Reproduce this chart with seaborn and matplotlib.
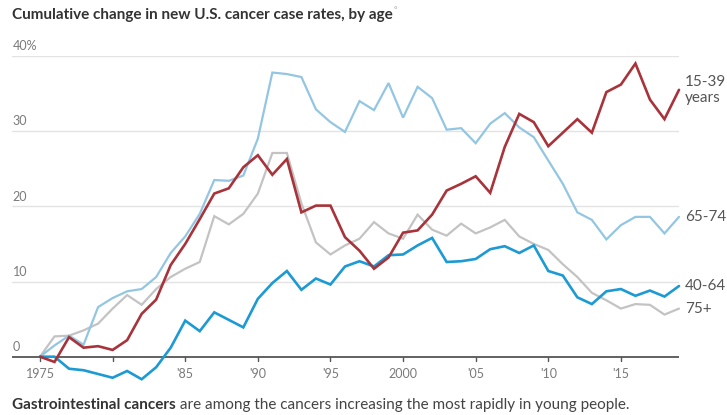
import numpy as np
import pandas as pd
import matplotlib
matplotlib.use("Agg")
import matplotlib.pyplot as plt
import seaborn as sns

years = list(range(1975, 2020))

age_15_39 = [0, -0.7, 2.6, 1.2, 1.4, 0.9, 2.2, 5.7, 7.6, 12.2, 15.0, 18.3,
             21.7, 22.4, 25.2, 26.8, 24.2, 26.3, 19.2, 20.1, 20.1, 15.9, 14.1,
             11.7, 13.2, 16.5, 16.8, 18.9, 22.1, 23.0, 24.0, 21.8, 27.9, 32.3,
             31.2, 28.0, 29.8, 31.6, 29.8, 35.2, 36.2, 39.0, 34.2, 31.6, 35.5]

age_65_74 = [0, 1.5, 2.8, 1.6, 6.6, 7.8, 8.7, 9.0, 10.6, 13.8, 16.0, 19.0,
             23.5, 23.4, 24.1, 29.0, 37.8, 37.6, 37.2, 32.9, 31.2, 29.9, 34.0,
             32.8, 36.4, 31.8, 35.9, 34.4, 30.2, 30.4, 28.4, 31.0, 32.4, 30.5,
             29.2, 26.1, 23.0, 19.2, 18.2, 15.6, 17.5, 18.6, 18.6, 16.4, 18.6]

age_40_64 = [0, 0, -1.6, -1.8, -2.3, -2.8, -1.9, -3.0, -1.4, 1.2, 4.8, 3.4,
             5.9, 4.9, 3.9, 7.7, 9.8, 11.4, 8.9, 10.4, 9.6, 12.0, 12.7,
             12.0, 13.5, 13.6, 14.8, 15.8, 12.6, 12.7, 13.0, 14.3, 14.7, 13.8,
             14.8, 11.4, 10.8, 7.9, 7.0, 8.7, 9.0, 8.1, 8.8, 8.0, 9.4]

age_75_plus = [0, 2.7, 2.8, 3.5, 4.4, 6.4, 8.2, 6.9, 9.0, 10.6, 11.7, 12.6,
               18.7, 17.6, 19.0, 21.7, 27.1, 27.1, 20.4, 15.2, 13.6, 14.8, 15.7,
               17.9, 16.4, 15.7, 18.9, 16.9, 16.1, 17.7, 16.4, 17.2, 18.2, 16.0,
               15.0, 14.2, 12.3, 10.6, 8.5, 7.5, 6.4, 7.0, 6.9, 5.6, 6.4]

series_names = ["75+", "65-74", "40-64", "15-39"]
end_labels = {"15-39": "15-39\nyears", "65-74": "65-74", "40-64": "40-64", "75+": "75+"}
y_ticks = [0, 10, 20, 30, 40]
y_tick_labels = ["0", "10", "20", "30", "40%"]
x_ticks = [1975, 1980, 1985, 1990, 1995, 2000, 2005, 2010, 2015]
x_tick_labels = ["1975", "", "'85", "'90", "'95", "2000", "'05", "'10", "'15"]

title = "Cumulative change in new U.S. cancer case rates, by age"
caption_bold = "Gastrointestinal cancers"
caption_rest = " are among the cancers increasing the most rapidly in young people."

values = {"15-39": age_15_39, "65-74": age_65_74, "40-64": age_40_64, "75+": age_75_plus}
df = pd.concat([pd.DataFrame({"year": years, "change": values[k], "age": k}) for k in series_names],
               ignore_index=True)

palette = {"15-39": "#a8333a", "65-74": "#93c6e2", "40-64": "#1c9ad3", "75+": "#c3c3c3"}
widths = {"15-39": 1.9, "65-74": 1.6, "40-64": 1.9, "75+": 1.6}

sns.set_theme(style="white")
plt.rcParams['font.family'] = ['Lato', 'DejaVu Sans']

W, H = 727, 415
fig = plt.figure(figsize=(W / 100, H / 100), dpi=100)

x_left_px, x_right_px = 12, 679
y_top_px, y_bot_px = 56, 381
ax = fig.add_axes([x_left_px / W, 1 - y_bot_px / H, (x_right_px - x_left_px) / W, (y_bot_px - y_top_px) / H])

sns.lineplot(data=df, x="year", y="change", hue="age", hue_order=series_names,
             palette=palette, ax=ax, legend=False, estimator=None, sort=False)
for line, name in zip(ax.get_lines(), series_names):
    line.set_linewidth(widths[name])
    line.set_solid_joinstyle("miter")
    line.set_clip_on(False)

px_per_year = (679 - 40) / 44.0
x0 = 1975 - (40 - x_left_px) / px_per_year
ax.set_xlim(x0, 2019)
px_per_unit = (356.7 - 56) / 40.0
ax.set_ylim(40 - (y_bot_px - y_top_px) / px_per_unit, 40)

for s in ["top", "right", "left", "bottom"]:
    ax.spines[s].set_visible(False)

for t in y_ticks:
    if t == 0:
        ax.axhline(0, color="#555555", lw=1.3, zorder=1)
    else:
        ax.axhline(t, color="#e3e3e3", lw=1.0, zorder=0)

ax.set_yticks([])
ax.set_xlabel("")
ax.set_ylabel("")

for t, lab in zip(y_ticks, y_tick_labels):
    ax.text(x0 + 0.05, t + 0.5, lab, ha="left", va="bottom", fontsize=9, color="#7a7a7a")

ax.set_xticks(x_ticks)
ax.set_xticklabels([])
ax.tick_params(axis="x", length=0)
for t, lab in zip(x_ticks, x_tick_labels):
    ax.plot([t, t], [0, -0.55], color="#555555", lw=1.0, clip_on=False)
    if lab:
        ax.text(t, -1.45, lab, ha="center", va="top", fontsize=9, color="#7a7a7a")

for name in series_names:
    yv = values[name][-1]
    ax.text(2019 + 0.4, yv, end_labels[name], ha="left", va="center", fontsize=11,
            color="#555555", linespacing=1.15)

fig.text(12 / W, 1 - 15 / H, title, ha="left", va="center", fontsize=11,
         fontweight="bold", color="#333333")
fig.canvas.draw()
r = fig.canvas.get_renderer()
tt = fig.texts[-1]
bb = tt.get_window_extent(r)
fig.text((bb.x1 + 1) / W, 1 - 10 / H, "°", ha="left", va="center", fontsize=6, color="#999999")

c1 = fig.text(12 / W, 1 - 405 / H, caption_bold, ha="left", va="center", fontsize=11,
              fontweight="bold", color="#333333")
fig.canvas.draw()
bb1 = c1.get_window_extent(r)
fig.text(bb1.x1 / W, 1 - 405 / H, caption_rest, ha="left", va="center", fontsize=11,
         color="#444444")

fig.savefig("out.png", dpi=100)
